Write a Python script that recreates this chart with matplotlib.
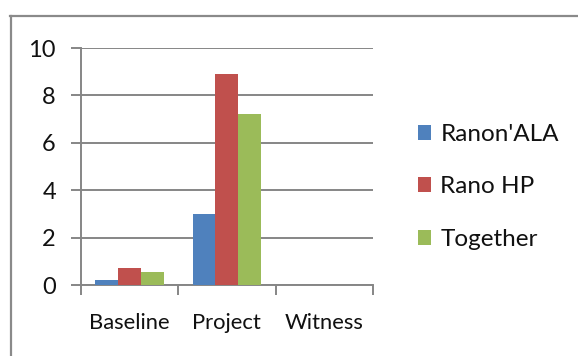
import matplotlib
matplotlib.use("Agg")
import matplotlib.pyplot as plt
import numpy as np
from matplotlib.lines import Line2D

plt.rcParams['font.family'] = ['Lato', 'DejaVu Sans']

categories = ["Baseline", "Project", "Witness"]
series_names = ["Ranon'ALA", "Rano HP", "Together"]
ranon_ala = [0.2, 3.0, 0.0]
rano_hp = [0.72, 8.9, 0.0]
together = [0.57, 7.2, 0.0]
series_values = [ranon_ala, rano_hp, together]
colors = ["#4F81BD", "#C0504D", "#9BBB59"]
y_ticks = [0, 2, 4, 6, 8, 10]

fig = plt.figure(figsize=(5.78, 3.56), dpi=100)
ax = fig.add_axes([0.140, 0.199, 0.505, 0.666])

grid_col = "#868686"
text_col = "#111111"
x = np.arange(len(categories))
bw = 0.235
for i, (vals, col, name) in enumerate(zip(series_values, colors, series_names)):
    ax.bar(x + (i - 1) * bw, vals, width=bw, color=col, label=name, zorder=3,
           linewidth=0)

ax.set_xlim(-0.5, 2.5)
ax.set_ylim(0, 10)
ax.set_yticks(y_ticks)
ax.set_yticklabels([str(t) for t in y_ticks])
ax.yaxis.grid(True, color=grid_col, linewidth=1.4, zorder=0)

ax.set_xticks(x)
ax.set_xticklabels(categories)
ax.set_xticks([-0.5, 0.5, 1.5, 2.5], minor=True)
ax.tick_params(axis='x', which='major', length=0, pad=20, labelsize=15.8,
               labelcolor=text_col)
ax.tick_params(axis='x', which='minor', length=7, width=1.4, color=grid_col,
               direction='out')
ax.tick_params(axis='y', length=7, width=1.4, color=grid_col, pad=11,
               labelsize=17, labelcolor=text_col)

for side in ['top', 'right']:
    ax.spines[side].set_visible(False)
for side in ['left', 'bottom']:
    ax.spines[side].set_color(grid_col)
    ax.spines[side].set_linewidth(1.4)

# outer frame: top and left edges only
fig.add_artist(Line2D([10 / 578, 1.0], [1 - 15.5 / 356] * 2,
                      transform=fig.transFigure, color="#8a8a8a", linewidth=1.6))
fig.add_artist(Line2D([10.5 / 578] * 2, [1 - 15.5 / 356, 0.0],
                      transform=fig.transFigure, color="#8a8a8a", linewidth=1.6))

leg = ax.legend(loc='center left', bbox_to_anchor=(0.723, 0.475),
                bbox_transform=fig.transFigure, frameon=False, fontsize=17.5,
                handlelength=0.55, handleheight=0.55, handletextpad=0.37,
                labelspacing=1.3, borderaxespad=0, borderpad=0)
for t in leg.get_texts():
    t.set_color(text_col)

fig.savefig("out.png", dpi=100)
